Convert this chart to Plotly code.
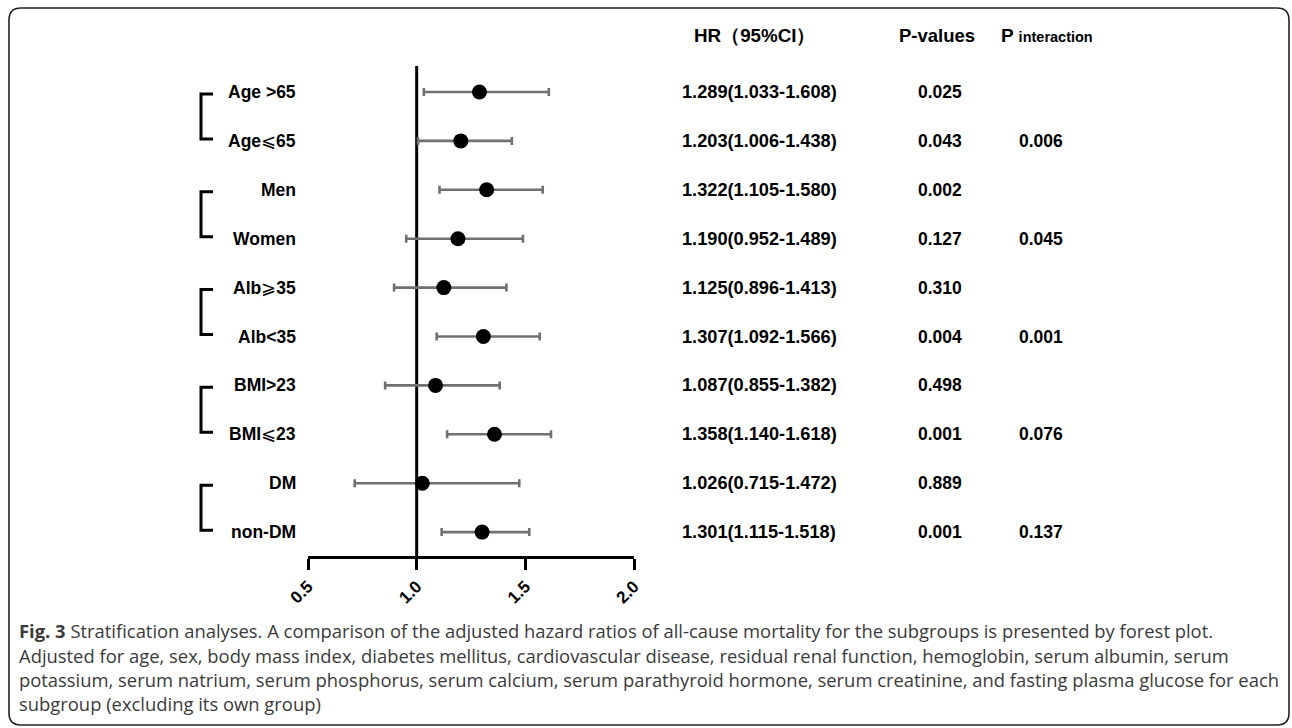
import plotly.graph_objects as go

# ---- data ----
labels = ["Age >65", "Age⩽65", "Men", "Women", "Alb⩾35", "Alb<35",
          "BMI>23", "BMI⩽23", "DM", "non-DM"]
hr = [1.289, 1.203, 1.322, 1.190, 1.125, 1.307, 1.087, 1.358, 1.026, 1.301]
ci_lo = [1.033, 1.006, 1.105, 0.952, 0.896, 1.092, 0.855, 1.140, 0.715, 1.115]
ci_hi = [1.608, 1.438, 1.580, 1.489, 1.413, 1.566, 1.382, 1.618, 1.472, 1.518]
p_values = ["0.025", "0.043", "0.002", "0.127", "0.310", "0.004", "0.498", "0.001", "0.889", "0.001"]
p_interaction = ["", "0.006", "", "0.045", "", "0.001", "", "0.076", "", "0.137"]
x_ticks = [0.5, 1.0, 1.5, 2.0]
x_ticktext = ["0.5", "1.0", "1.5", "2.0"]
caption_lines = [
    "<b>Fig. 3</b> Stratification analyses. A comparison of the adjusted hazard ratios of all-cause mortality for the subgroups is presented by forest plot.",
    "Adjusted for age, sex, body mass index, diabetes mellitus, cardiovascular disease, residual renal function, hemoglobin, serum albumin, serum",
    "potassium, serum natrium, serum phosphorus, serum calcium, serum parathyroid hormone, serum creatinine, and fasting plasma glucose for each",
    "subgroup (excluding its own group)",
]

W, H = 1292, 728
def px(x):
    return x / W
def py(y):
    return 1 - y / H

def esc(s):
    s = s.replace("<", "&lt;").replace(">", "&gt;")
    for ch in ("⩽", "⩾"):
        s = s.replace(ch, f"<span style='font-weight:normal'>{ch}</span>")
    return s

rows = list(range(len(labels)))
BOLD = dict(family="Liberation Sans, Arial, sans-serif", color="black", weight="bold")

fig = go.Figure()
fig.add_trace(go.Scatter(
    x=hr, y=rows, mode="markers",
    marker=dict(size=15, color="black"),
    error_x=dict(type="data", symmetric=False,
                 array=[h - v for h, v in zip(ci_hi, hr)],
                 arrayminus=[v - l for v, l in zip(hr, ci_lo)],
                 color="#707070", thickness=2.6, width=4),
    cliponaxis=False, showlegend=False, hoverinfo="skip",
))

annotations = []
for i, lab in enumerate(labels):
    annotations.append(dict(x=px(298), y=i, xref="paper", yref="y", text=esc(lab),
                            xanchor="right", yanchor="middle", showarrow=False,
                            font=dict(BOLD, size=17.5)))
    annotations.append(dict(x=px(759), y=i, xref="paper", yref="y",
                            text=f"{hr[i]:.3f}({ci_lo[i]:.3f}-{ci_hi[i]:.3f})",
                            xanchor="center", yanchor="middle", showarrow=False,
                            font=dict(BOLD, size=18.2)))
    annotations.append(dict(x=px(940), y=i, xref="paper", yref="y", text=p_values[i],
                            xanchor="center", yanchor="middle", showarrow=False,
                            font=dict(BOLD, size=17.5)))
    if p_interaction[i]:
        annotations.append(dict(x=px(1041), y=i, xref="paper", yref="y", text=p_interaction[i],
                                xanchor="center", yanchor="middle", showarrow=False,
                                font=dict(BOLD, size=17.5)))

# headers
annotations.append(dict(x=px(755), y=py(35), xref="paper", yref="paper", text="HR（95%CI）",
                        xanchor="center", yanchor="middle", showarrow=False, font=dict(BOLD, size=18.8)))
annotations.append(dict(x=px(937), y=py(35), xref="paper", yref="paper", text="P-values",
                        xanchor="center", yanchor="middle", showarrow=False, font=dict(BOLD, size=18.5)))
annotations.append(dict(x=px(999), y=py(35), xref="paper", yref="paper",
                        text="P <span style='font-size:14.5px'>interaction</span>",
                        xanchor="left", yanchor="middle", showarrow=False, font=dict(BOLD, size=19)))

# caption
cap_y = [630, 655, 679, 703]
for line, yy in zip(caption_lines, cap_y):
    annotations.append(dict(x=px(17), y=py(yy), xref="paper", yref="paper", text=line,
                            xanchor="left", yanchor="middle", showarrow=False, align="left",
                            font=dict(family="Open Sans, sans-serif", size=18.4, color="#3a3a3a")))

shapes = []
shapes.append(dict(type="line", xref="x", yref="y domain", x0=1, x1=1, y0=0, y1=1,
                   line=dict(color="black", width=3), layer="below"))
for g in range(0, len(labels), 2):
    t, b = g + 0.04, g + 1 - 0.04
    shapes.append(dict(type="path", xref="paper", yref="y",
                       path=f"M {px(213)},{t} L {px(201)},{t} L {px(201)},{b} L {px(213)},{b}",
                       line=dict(color="black", width=3)))
x0, x1, y0, y1, r = 9, 1289, 8, 725, 12
path = (f"M {px(x0+r)},{py(y0)} L {px(x1-r)},{py(y0)} Q {px(x1)},{py(y0)} {px(x1)},{py(y0+r)} "
        f"L {px(x1)},{py(y1-r)} Q {px(x1)},{py(y1)} {px(x1-r)},{py(y1)} "
        f"L {px(x0+r)},{py(y1)} Q {px(x0)},{py(y1)} {px(x0)},{py(y1-r)} "
        f"L {px(x0)},{py(y0+r)} Q {px(x0)},{py(y0)} {px(x0+r)},{py(y0)} Z")
shapes.append(dict(type="path", xref="paper", yref="paper", path=path,
                   line=dict(color="#222", width=1.6)))

row_px0, row_step = 92, 48.9
y_top_val = -(row_px0 - 66) / row_step
y_bot_val = (556 - row_px0) / row_step

fig.update_layout(
    width=W, height=H, autosize=False,
    margin=dict(l=0, r=0, t=0, b=0, pad=0, autoexpand=False),
    paper_bgcolor="white", plot_bgcolor="white",
    xaxis=dict(domain=[px(308), px(634)], range=[0.5, 2.0], automargin=False,
               tickvals=x_ticks, ticktext=x_ticktext, tickangle=-45,
               ticks="outside", ticklen=11, tickwidth=2.6, tickcolor="black",
               showline=True, linewidth=2.6, linecolor="black",
               showgrid=False, zeroline=False, fixedrange=True,
               tickfont=dict(BOLD, size=17)),
    yaxis=dict(domain=[py(556), py(66)], range=[y_bot_val, y_top_val], automargin=False,
               visible=False, fixedrange=True),
    annotations=annotations, shapes=shapes,
)

fig.write_html("out.html", config={"displayModeBar": False},
               post_script="document.body.style.margin='0';document.body.style.overflow='hidden';")
